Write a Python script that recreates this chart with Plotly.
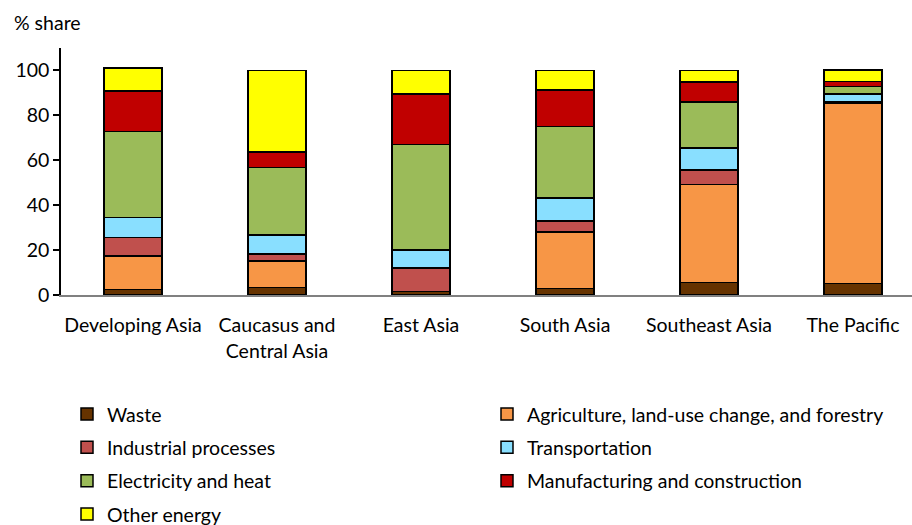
import plotly.graph_objects as go

categories = ["Developing Asia", "Caucasus and<br>Central Asia", "East Asia",
              "South Asia", "Southeast Asia", "The Pacific"]

waste = [2.4, 3.3, 1.5, 3.0, 5.5, 5.2]
agriculture = [14.9, 11.8, 0.0, 25.1, 43.7, 80.4]
industrial = [8.3, 3.1, 10.6, 4.9, 6.4, 0.3]
transportation = [8.9, 8.5, 7.9, 10.3, 9.9, 3.7]
electricity = [38.4, 30.0, 47.1, 31.8, 20.4, 3.3]
manufacturing = [17.9, 7.0, 22.5, 16.3, 8.9, 2.2]
other_energy = [10.2, 36.3, 10.4, 8.6, 5.2, 5.2]

series = [
    ("Waste", waste, "#663300", "legend"),
    ("Agriculture, land-use change, and forestry", agriculture, "#F79646", "legend2"),
    ("Industrial processes", industrial, "#C0504D", "legend"),
    ("Transportation", transportation, "#89DFFF", "legend2"),
    ("Electricity and heat", electricity, "#9BBB59", "legend"),
    ("Manufacturing and construction", manufacturing, "#C00000", "legend2"),
    ("Other energy", other_energy, "#FFFF00", "legend"),
]

FONT = "Lato"
FS = 19.5
fig = go.Figure()
for i, (name, vals, color, lg) in enumerate(series):
    fig.add_trace(go.Bar(
        x=categories, y=vals, name=name,
        marker=dict(color=color, line=dict(color="black", width=1.5)),
        legend=lg, legendgroup=name,
    ))

W, H = 912, 525
ml, mr, mt, mb = 61, 0, 47.5, 230
pw = W - ml - mr
ph = H - mt - mb
step = 144.0
xmax = pw / step - 0.5

def px_x(x):
    return (x - ml) / pw

def px_y(y):
    return (H - mb - y) / ph

fig.update_layout(
    width=W, height=H,
    margin=dict(l=ml, r=mr, t=mt, b=mb, pad=0, autoexpand=False),
    barmode="stack", bargap=0.6,
    plot_bgcolor="white", paper_bgcolor="white",
    font=dict(family=FONT, size=FS, color="black"),
    xaxis=dict(range=[-0.5, xmax], showline=True, linecolor="#808080", linewidth=1.5,
               ticks="", showgrid=False, tickfont=dict(size=FS), ticklabelstandoff=12,
               automargin=False),
    yaxis=dict(range=[0, 110], tickvals=[0, 20, 40, 60, 80, 100], showline=True,
               linecolor="black", linewidth=1.5, ticks="outside", ticklen=6,
               tickcolor="black", tickwidth=1.5, showgrid=False, zeroline=False,
               tickfont=dict(size=FS), automargin=False),
    legend=dict(x=px_x(67), y=px_y(395), xanchor="left", yanchor="top",
                orientation="v", tracegroupgap=5, traceorder="grouped",
                font=dict(size=FS), bgcolor="rgba(0,0,0,0)"),
    legend2=dict(x=px_x(487), y=px_y(395), xanchor="left", yanchor="top",
                 orientation="v", tracegroupgap=5, traceorder="grouped",
                 font=dict(size=FS), bgcolor="rgba(0,0,0,0)"),
    annotations=[dict(text="% share", x=px_x(12), y=px_y(22), xref="paper", yref="paper",
                      showarrow=False, xanchor="left", yanchor="middle",
                      font=dict(size=FS))],
)

fig.write_html("out.html", config={"displayModeBar": False},
               post_script="document.body.style.margin='0';")
